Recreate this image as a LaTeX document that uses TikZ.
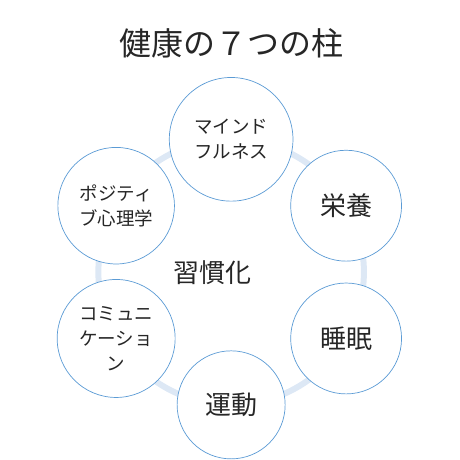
\documentclass[tikz,border=0pt]{standalone}
\usepackage{fontspec}
\setmainfont{Noto Sans CJK JP}
\definecolor{ringblue}{RGB}{221,232,245}
\definecolor{edgeblue}{RGB}{91,155,213}
\tikzset{
  pillar/.style={circle,draw=edgeblue,line width=0.7pt,fill=white,align=center,text=black!85,inner sep=0pt},
  smalltext/.style={font=\fontsize{18.5}{25}\selectfont},
  bigtext/.style={font=\fontsize{26}{30}\selectfont}
}
\begin{document}
\begin{tikzpicture}[scale=1.0]
  \useasboundingbox (-8.13,-6.61) rectangle (8.05,9.57);
  % title
  \node[text=black!85,font=\fontsize{32}{36}\selectfont] (title) at (0,8.05) {健康の７つの柱};
  % habit ring
  \draw[line width=6pt,ringblue] (0,0) circle (4.67);
  \node[bigtext,text=black!85] (habit) at (-0.65,-0.03) {習慣化};
  % pillars
  \node[pillar,smalltext,minimum size=4.35cm] (mind) at (90:4.67) {マインド\\フルネス};
  \node[pillar,bigtext,minimum size=3.9cm] (food) at (30:4.67) {栄養};
  \node[pillar,bigtext,minimum size=3.9cm] (sleep) at (-30:4.67) {睡眠};
  \node[pillar,bigtext,minimum size=3.8cm] (move) at (-90:4.67) {運動};
  \node[pillar,smalltext,minimum size=4.15cm] (talk) at (-150:4.67) {コミュニ\\ケーショ\\ン};
  \node[pillar,smalltext,minimum size=4.1cm] (posi) at (150:4.67) {ポジティ\\ブ心理学};
\end{tikzpicture}
\end{document}
